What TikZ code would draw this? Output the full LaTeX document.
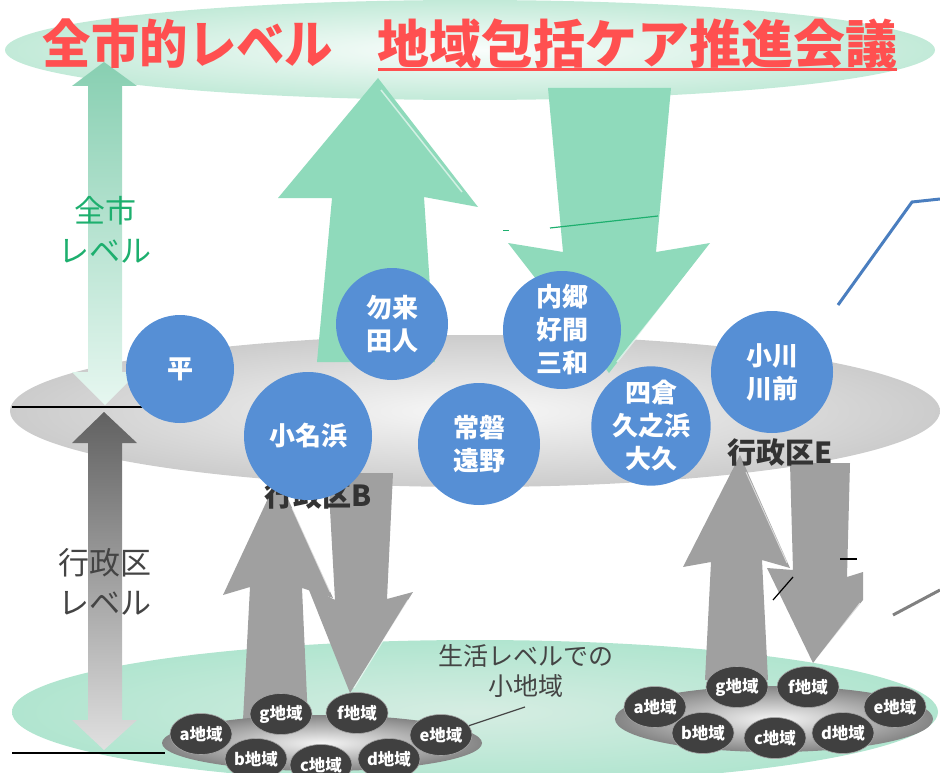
\documentclass[tikz,border=0pt]{standalone}
\usepackage{fontspec}
\usetikzlibrary{shapes.geometric}
\newfontfamily\jp{Noto Sans CJK JP}
\definecolor{mint}{HTML}{8FDABB}
\definecolor{mintl}{HTML}{C2EAD8}
\definecolor{cblue}{HTML}{568FD5}
\definecolor{tred}{HTML}{FF5050}
\definecolor{tgreen}{HTML}{1DAF6E}
\definecolor{dgray}{HTML}{444444}
\definecolor{regfill}{HTML}{404040}
\definecolor{garrow}{HTML}{A0A0A0}
\definecolor{lineblue}{HTML}{4A7EBF}
\tikzset{
  ward/.style={circle, fill=cblue, inner sep=0pt, text=white, align=center,
    font=\jp\bfseries\fontsize{26}{33}\selectfont},
  region/.style={ellipse, fill=regfill, draw=gray!70, line width=0.6pt, inner sep=0pt,
    minimum width=62pt, minimum height=41pt, text=white,
    font=\jp\bfseries\fontsize{16.5}{18}\selectfont},
  garr/.style={fill=garrow},
  hilite/.style={draw=white, opacity=0.6, line width=1.5pt},
  wardlabel/.style={text=black!80, font=\jp\bfseries\fontsize{29}{32}\selectfont},
  levellabel/.style={align=center, font=\jp\fontsize{31}{40}\selectfont}
}
\begin{document}
\begin{tikzpicture}[x=1pt,y=-1pt]
\useasboundingbox (0,0) rectangle (940,773);
\clip (0,0) rectangle (940,773);
% top ellipse (city level)
\shade[inner color=white!92!mintl, outer color=mintl] (470,50) ellipse [x radius=465, y radius=50];
% bottom green ellipse
\shade[inner color=black!4!mintl!60, outer color=mint!70] (475,712) ellipse [x radius=463, y radius=72];
% middle gray ellipse (ward level)
\shade[inner color=black!3, outer color=black!20] (475,411) ellipse [x radius=465, y radius=76];
% left green level arrow
\path[top color=mint!95!black, bottom color=mint!22] (104,62) -- (137,86) -- (122,86) -- (122,372) -- (138,372) -- (105,405) -- (72,372) -- (88,372) -- (88,86) -- (72,86) -- cycle;
% horizontal black lines
\draw[line width=2pt] (12,407) -- (142,407);
\draw[line width=2pt] (12,753) -- (165,753);
% gray level arrow
\path[top color=black!62, bottom color=black!12] (104,412) -- (137,443) -- (122,443) -- (122,720) -- (137,720) -- (104,750) -- (72,720) -- (88,720) -- (88,443) -- (72,443) -- cycle;
% big green arrows
\fill[mint] (378,78) -- (478,207) -- (424,197) -- (435,362) -- (317,362) -- (332,198) -- (278,198) -- cycle;
\draw[hilite] (381,90) -- (462,192);
\fill[mint] (548,88) -- (671,88) -- (656,252) -- (710,243) -- (609,373) -- (508,243) -- (563,252) -- cycle;
\draw[hilite] (700,258) -- (617,362);
\draw[tgreen, line width=1.2pt] (550,228) -- (658,216);
\draw[tgreen, line width=1pt] (503,230) -- (509,230);
% gray arrows, ward B
\fill[garr] (278,477) -- (333,598) -- (302,588) -- (308,720) -- (243,720) -- (250,587) -- (223,595) -- cycle;
\draw[hilite, line width=1pt] (292,508) -- (330,592);
\fill[garr] (328,473) -- (393,473) -- (387,599) -- (413,592) -- (350,693) -- (307,585) -- (335,600) -- cycle;
\draw[hilite, line width=1pt] (408,600) -- (354,688);
% gray arrows, ward E
\fill[garr] (740,455) -- (790,568) -- (762,560) -- (768,680) -- (705,680) -- (711,562) -- (683,567) -- cycle;
\draw[hilite, line width=1pt] (746,472) -- (787,563);
\fill[garr] (790,463) -- (850,463) -- (847,577) -- (863,572) -- (863,600) -- (813,663) -- (767,568) -- (793,570) -- cycle;
\draw[hilite, line width=1pt] (860,603) -- (816,660);
\draw[line width=1.2pt] (840,559) -- (857,559);
\draw[line width=1.2pt] (773,600) -- (793,577);
\draw[black!50, line width=3pt] (893,615) -- (940,590);
% blue leader line
\coordinate (bl1) at (838,305);
\coordinate (bl2) at (912,202);
\coordinate (bl3) at (940,199);
\draw[lineblue, line width=3pt] (bl1) -- (bl2) -- (bl3);
% ward labels
\node[wardlabel] (wB) at (318,496) {行政区B};
\node[wardlabel] (wE) at (780,453) {行政区E};
% ward circles
\node[ward, minimum size=108pt] (hei) at (180,369) {平};
\node[ward, minimum size=112pt] (nakoso) at (392,324) {勿来\\田人};
\node[ward, minimum size=118pt] (uchigo) at (562,330) {内郷\\好間\\三和};
\node[ward, minimum size=128pt] (onahama) at (308,436) {小名浜};
\node[ward, minimum size=122pt] (joban) at (479,444) {常磐\\遠野};
\node[ward, minimum size=118pt] (yotsukura) at (651,426) {四倉\\久之浜\\大久};
\node[ward, minimum size=122pt] (ogawa) at (772,372) {小川\\川前};
% platforms
\shade[inner color=black!4, outer color=black!48] (322,743) ellipse [x radius=160, y radius=28];
\shade[inner color=black!4, outer color=black!48] (774,719) ellipse [x radius=159, y radius=33];
% regions B
\node[region] (Ba) at (201,734) {a地域};
\node[region] (Bg) at (281,714) {g地域};
\node[region] (Bf) at (357,713) {f地域};
\node[region] (Be) at (441,735) {e地域};
\node[region] (Bb) at (256,759) {b地域};
\node[region] (Bc) at (321,765) {c地域};
\node[region] (Bd) at (389,759) {d地域};
% regions E
\node[region] (Ea) at (655,707) {a地域};
\node[region] (Eg) at (737,687) {g地域};
\node[region] (Ef) at (808,687) {f地域};
\node[region] (Ee) at (895,707) {e地域};
\node[region] (Eb) at (703,733) {b地域};
\node[region] (Ec) at (775,738) {c地域};
\node[region] (Ed) at (843,733) {d地域};
% labels
\node[levellabel, text=tgreen] (cityl) at (105,230) {全市\\レベル};
\node[levellabel, text=dgray] (wardl) at (105,582) {行政区\\レベル};
\node[align=center, text=dgray, font=\jp\fontsize{25}{30}\selectfont] (lifel) at (526,671) {生活レベルでの\\小地域};
\coordinate (lifetail) at (525,707);
\draw[dgray, line width=1.2pt] (lifetail) -- (Be);
% title
\node[text=tred, font=\jp\bfseries\fontsize{52}{56}\selectfont] (t1) at (188,44) {\scalebox{0.93}[1]{全市的レベル}};
\node[text=tred, font=\jp\bfseries\fontsize{52}{56}\selectfont] (t2) at (637,44) {地域包括ケア推進会議};
\coordinate (ul1) at (378,70);
\coordinate (ul2) at (897,70);
\draw[tred, line width=3pt] (ul1) -- (ul2);
\end{tikzpicture}
\end{document}
